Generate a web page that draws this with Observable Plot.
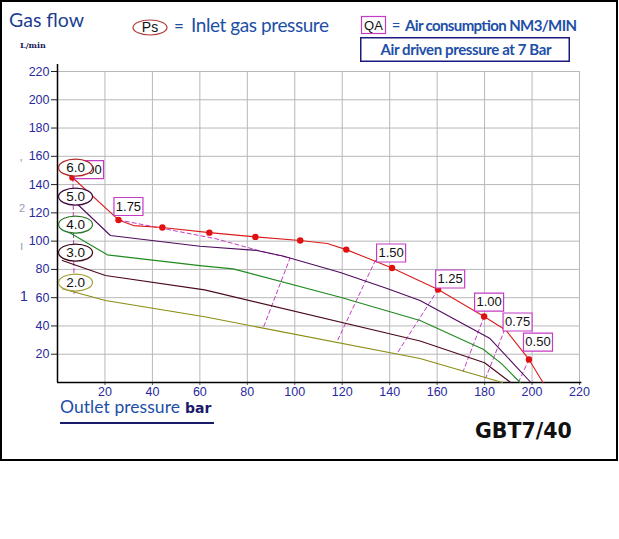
<!DOCTYPE html>
<html><head><meta charset="utf-8">
<script src="https://cdn.jsdelivr.net/npm/d3@7"></script>
<script src="https://cdn.jsdelivr.net/npm/@observablehq/plot@0.6"></script>
<style>
body{margin:0;background:#fff;}
#wrap{position:relative;width:619px;height:539px;overflow:hidden;background:#fff;}
#frame{position:absolute;left:0;top:0;width:618px;height:461px;box-sizing:border-box;border:2px solid #000;}
#chart{position:absolute;left:0;top:0;}
#over{position:absolute;left:0;top:0;}
</style></head><body>
<div id="wrap"><div id="frame"></div><div id="chart"></div><svg id="over" width="619" height="539"></svg></div>
<script>
// ---- data ----
const xTicks = [20, 40, 60, 80, 100, 120, 140, 160, 180, 200, 220];
const yTicks = [20, 40, 60, 80, 100, 120, 140, 160, 180, 200, 220];

// outlet pressure (bar) vs gas flow (L/min) for each inlet pressure Ps
const curvePs60 = [[6.3,145],[25.7,115],[32,111],[44.2,109.6],[64,106],[83.4,103],[102.3,100.4],[113.7,98.3],[121.7,94],[141,81],[160.4,65.8],[179.8,46.7],[189,37],[198.7,16.3],[204.6,0]];
const curvePs50 = [[6,130],[22.3,104],[60,96.4],[84,93.4],[95,89.5],[119.2,77.8],[138.9,66.5],[152.8,58],[182.3,31.1],[199.5,0]];
const curvePs40 = [[3,108],[21,90.3],[60,82.7],[74,80.4],[119.2,60.3],[152.8,43.8],[179.4,23.5],[187,13.5],[195,0]];
const curvePs30 = [[2,86.3],[20.2,75.7],[62,65.5],[152.8,29.3],[180,14],[191,0]];
const curvePs20 = [[2,66.3],[20.2,58],[62,46.5],[152.8,17],[187.5,0]];

// red measurement dots on the 6.0 curve
const dotX = [6.3, 25.7, 44.2, 64, 83.4, 102.3, 121.7, 141, 160.4, 179.8, 198.7];
const dotY = [145, 115, 109.6, 106, 103, 100.4, 94, 81, 65.8, 46.7, 16.3];

// air consumption iso-lines (dashed)
const qa200 = [[6.5,145],[7,62]];
const qa175 = [[25.7,115],[66.5,101.8],[85.5,93],[98,88],[86.7,38.5]];
const qa150 = [[134,86.5],[117.8,28.9]];
const qa125 = [[160.4,65.8],[143,20.3]];
const qa100 = [[179.8,46.7],[171,8]];
const qa075 = [[188.5,37.5],[180.5,3.3]];
const qa050 = [[198.7,16.3],[194.5,1]];

// QA labels
const qaText = ["2.00","1.75","1.50","1.25","1.00","0.75","0.50"];
const qaX = [13.3, 29.9, 140.6, 165.5, 181.9, 193.9, 202.5];
const qaY = [150.6, 124.5, 91.6, 73.2, 56.9, 42.8, 28.6];

// Ps labels (inlet pressure)
const psText = ["6.0","5.0","4.0","3.0","2.0"];
const psX = [7.6, 7.6, 7.6, 7.6, 7.6];
const psY = [152, 131.5, 111.7, 91.9, 70.7];

// ---- styles ----
const lineColors = {"6.0":"#dc1c1c","5.0":"#4f0b5e","4.0":"#1f8a1f","3.0":"#4a0a1c","2.0":"#8c8c14"};
const ellipseColors = ["#b02828","#3a0a3a","#2a7a2a","#3a0a1a","#a0a038"];

const ellipseSym = {draw(ctx){const a=17,b=8.5,k=0.5523;
  ctx.moveTo(a,0);ctx.bezierCurveTo(a,b*k,a*k,b,0,b);ctx.bezierCurveTo(-a*k,b,-a,b*k,-a,0);
  ctx.bezierCurveTo(-a,-b*k,-a*k,-b,0,-b);ctx.bezierCurveTo(a*k,-b,a,-b*k,a,0);ctx.closePath();}};
const boxSym = {draw(ctx){ctx.rect(-14.5,-9,29,18);}};

const qaData = qaText.map((t,i)=>({t, x:qaX[i], y:qaY[i]}));
const psData = psText.map((t,i)=>({t, x:psX[i], y:psY[i], c:ellipseColors[i]}));
const dots = dotX.map((x,i)=>({x, y:dotY[i]}));
const X = d=>d[0], Y = d=>d[1];

const dashed = [qa200,qa175,qa150,qa125,qa100,qa075,qa050].map(a =>
  Plot.line(a, {x:X, y:Y, stroke:"#c43cc4", strokeWidth:1, strokeDasharray:"4,3"}));
const curves = [["2.0",curvePs20],["3.0",curvePs30],["4.0",curvePs40],["5.0",curvePs50],["6.0",curvePs60]].map(([k,a]) =>
  Plot.line(a, {x:X, y:Y, stroke:lineColors[k], strokeWidth:1.1}));

const plot = Plot.plot({
  width: 619, height: 460,
  marginLeft: 57, marginRight: 40, marginTop: 71, marginBottom: 78,
  x: {domain:[0,220]}, y: {domain:[0,220]},
  color: {type:"identity"},
  style: {background:"transparent", fontFamily:"'Liberation Sans', Arial, sans-serif"},
  marks: [
    Plot.gridX(xTicks, {stroke:"#b8b8b8", strokeOpacity:1}),
    Plot.gridY(yTicks, {stroke:"#b8b8b8", strokeOpacity:1}),
    Plot.axisX(xTicks, {tickSize:3, tickPadding:1.5, stroke:"#555", fill:"#2a2a9c", fontSize:12.5, label:null}),
    Plot.axisY(yTicks, {tickSize:6, tickPadding:2, stroke:"#222", fill:"#2a2a9c", fontSize:12.5, label:null}),
    Plot.ruleX([0], {y1:0, y2:225, stroke:"#000", strokeWidth:1.5}),
    Plot.ruleY([0], {x1:0, x2:221, stroke:"#000", strokeWidth:1.5}),
    ...dashed,
    ...curves,
    Plot.dot(dots, {x:"x", y:"y", r:3.2, fill:"#e01010", stroke:"none"}),
    Plot.dot(qaData, {x:"x", y:"y", symbol:boxSym, fill:"white", stroke:"#c43cc4", strokeWidth:1.2}),
    Plot.text(qaData, {x:"x", y:"y", text:"t", fontSize:13, fill:"#111"}),
    Plot.dot(psData, {x:"x", y:"y", symbol:ellipseSym, fill:"white", stroke:"c", strokeWidth:1.2}),
    Plot.text(psData, {x:"x", y:"y", text:"t", fontSize:13.5, fill:"#111"})
  ]
});
document.getElementById("chart").appendChild(plot);

// ---- header / footer text ----
const o = d3.select("#over");
const T = (x,y,s,st) => { const e=o.append("text").attr("x",x).attr("y",y).text(s); for (const k in st) e.attr(k,st[k]); return e; };
T(9,27,"Gas flow",{"font-family":"Lato","font-size":19.5,fill:"#1c3f91"});
T(20,48,"L/min",{"font-family":"DejaVu Serif","font-size":8,"font-weight":"bold",fill:"#1b1b5b"});
o.append("ellipse").attr("cx",150).attr("cy",27.5).attr("rx",17).attr("ry",7.5).attr("fill","none").attr("stroke","#b03a3a").attr("stroke-width",1.2);
T(150,32,"Ps",{"font-family":"Liberation Sans","font-size":14,"text-anchor":"middle",fill:"#111"});
T(179,32,"=",{"font-family":"Lato","font-size":17,"text-anchor":"middle",fill:"#1d4fa6"});
T(191,32,"Inlet gas pressure",{"font-family":"Lato","font-size":19,fill:"#1d4fa6",textLength:138});
o.append("rect").attr("x",361.5).attr("y",16.5).attr("width",24).attr("height",17).attr("fill","none").attr("stroke","#c43cc4").attr("stroke-width",1.2);
T(373.5,30,"QA",{"font-family":"Liberation Sans","font-size":13,"text-anchor":"middle",fill:"#111"});
T(396,31,"=",{"font-family":"Lato","font-size":15,"text-anchor":"middle",fill:"#1d4fa6"});
T(405,31,"Air consumption NM3/MIN",{"font-family":"Lato","font-size":15,"font-weight":"bold",fill:"#1d4fa6",textLength:172});
o.append("rect").attr("x",360.75).attr("y",37.75).attr("width",208.5).attr("height",23.5).attr("fill","none").attr("stroke","#1a1a80").attr("stroke-width",1.5);
T(466,55,"Air driven pressure at 7 Bar",{"font-family":"Lato","font-size":15,"font-weight":"bold","text-anchor":"middle",fill:"#1d4fa6",textLength:171});
T(60,413,"Outlet pressure",{"font-family":"Lato","font-size":17.5,fill:"#1d4fa6",textLength:120});
T(185,413,"bar",{"font-family":"DejaVu Sans","font-size":14,"font-weight":"bold",fill:"#1a1a6a"});
o.append("line").attr("x1",60).attr("x2",214).attr("y1",423).attr("y2",423).attr("stroke","#1a1a6a").attr("stroke-width",2);
T(475,438,"GBT7/40",{"font-family":"DejaVu Sans","font-size":20.5,"font-weight":"bold",fill:"#111"});
// faint residual marks at far left
T(20,168,"'",{"font-family":"Liberation Sans","font-size":12,fill:"#9a9ab8"});
T(19,212,"2",{"font-family":"Liberation Sans","font-size":11,fill:"#9a9ab8"});
T(20,250,"ı",{"font-family":"Liberation Sans","font-size":12,fill:"#9a9ab8"});
T(20,301,"1",{"font-family":"Liberation Sans","font-size":14,fill:"#2a2a9c"});
</script>
</body></html>
